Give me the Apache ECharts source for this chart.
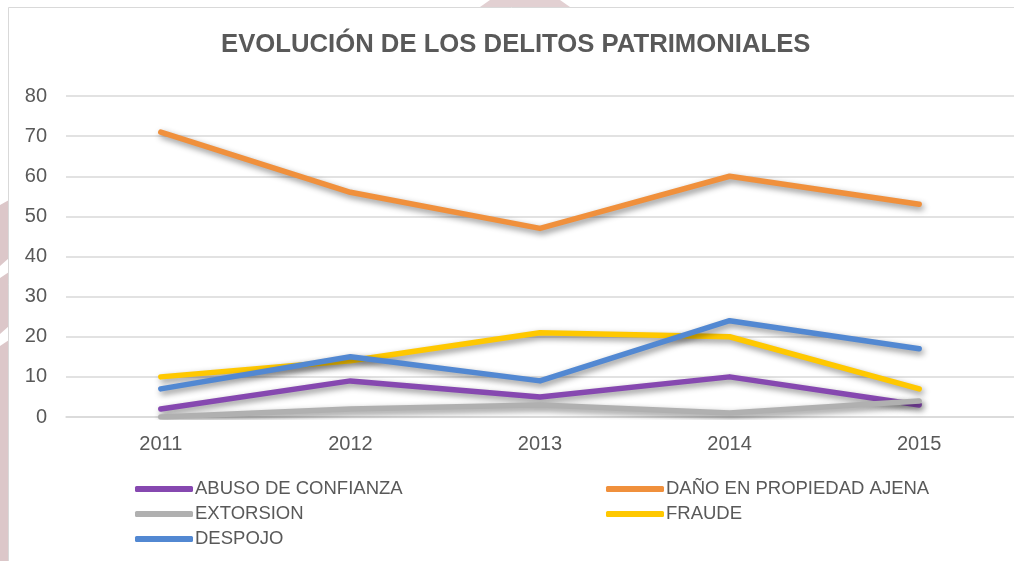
<!DOCTYPE html>
<html>
<head>
<meta charset="utf-8">
<script src="https://cdn.jsdelivr.net/npm/echarts@6/dist/echarts.min.js"></script>
<style>
  html, body { margin: 0; padding: 0; background: #ffffff; }
  #chart { width: 1014px; height: 561px; }
</style>
</head>
<body>
<div id="chart"></div>
<script>
// Años y tasas de delitos patrimoniales
const years = ['2011', '2012', '2013', '2014', '2015'];
const abusoConfianza = [2, 9, 5, 10, 3];
const danoPropiedad = [71, 56, 47, 60, 53];
const extorsion = [0, 2, 3, 1, 4];
const fraude = [10, 14, 21, 20, 7];
const despojo = [7, 15, 9, 24, 17];
const yTicks = [0, 10, 20, 30, 40, 50, 60, 70, 80];

const seriesDefs = [
  { name: 'ABUSO DE CONFIANZA', data: abusoConfianza, color: '#8648b0' },
  { name: 'DAÑO EN PROPIEDAD AJENA', data: danoPropiedad, color: '#f0903c' },
  { name: 'EXTORSION', data: extorsion, color: '#b0b0b0' },
  { name: 'FRAUDE', data: fraude, color: '#ffc800' },
  { name: 'DESPOJO', data: despojo, color: '#5288d2' }
];

const FONT = '"Liberation Sans", Arial, sans-serif';
const TEXT = '#595959';

const chart = echarts.init(document.getElementById('chart'), null, { renderer: 'canvas' });

const legendCommon = {
  orient: 'vertical',
  icon: 'roundRect',
  itemWidth: 58,
  itemHeight: 6,
  itemGap: 5,
  selectedMode: false,
  textStyle: { fontFamily: FONT, fontSize: 18.5, color: TEXT, lineHeight: 20, padding: [0, 0, 0, -3] }
};

chart.setOption({
  backgroundColor: '#ffffff',
  animation: false,
  title: {
    text: 'EVOLUCIÓN DE LOS DELITOS PATRIMONIALES',
    left: 216,
    top: 27,
    textStyle: { fontFamily: FONT, fontSize: 25.7, fontWeight: 'bold', color: TEXT }
  },
  legend: [
    Object.assign({}, legendCommon, {
      left: 130, top: 474,
      data: ['ABUSO DE CONFIANZA', 'EXTORSION', 'DESPOJO']
    }),
    Object.assign({}, legendCommon, {
      left: 601, top: 474,
      data: ['DAÑO EN PROPIEDAD AJENA', 'FRAUDE']
    })
  ],
  grid: { left: 66, top: 96, width: 952, bottom: 144, containLabel: false },
  xAxis: {
    type: 'category',
    data: years,
    boundaryGap: true,
    axisLine: { show: true, lineStyle: { color: '#d9d9d9', width: 1.5 } },
    axisTick: { show: false },
    axisLabel: { fontFamily: FONT, fontSize: 20, color: TEXT, margin: 17 }
  },
  yAxis: {
    type: 'value',
    min: yTicks[0],
    max: yTicks[yTicks.length - 1],
    interval: 10,
    axisLine: { show: false },
    axisTick: { show: false },
    axisLabel: { fontFamily: FONT, fontSize: 20, color: TEXT, margin: 19 },
    splitLine: { lineStyle: { color: '#d9d9d9', width: 1.5 } }
  },
  series: seriesDefs.map(s => ({
    name: s.name,
    type: 'line',
    data: s.data,
    symbol: 'none',
    color: s.color,
    itemStyle: { color: s.color },
    lineStyle: {
      color: s.color,
      width: 5.5,
      cap: 'round',
      join: 'round',
      shadowColor: 'rgba(0,0,0,0.45)',
      shadowBlur: 6,
      shadowOffsetX: 2,
      shadowOffsetY: 3
    }
  })),
  graphic: [
    // rosy shapes showing past the chart frame
    { type: 'polygon', z: -10, shape: { points: [[0, 205], [9, 200], [9, 258], [0, 266]] }, style: { fill: '#dcc7c9' } },
    { type: 'polygon', z: -10, shape: { points: [[0, 278], [9, 272], [9, 326], [0, 334]] }, style: { fill: '#dcc7c9' } },
    { type: 'polygon', z: -10, shape: { points: [[0, 346], [9, 340], [9, 561], [0, 561]] }, style: { fill: '#dcc7c9' } },
    { type: 'polygon', z: -10, shape: { points: [[490, 0], [560, 0], [570, 7], [480, 7]] }, style: { fill: '#e2d0d2' } },
    // chart frame
    { type: 'rect', z: -5, shape: { x: 8.5, y: 7.5, width: 1020, height: 570 }, style: { fill: '#ffffff', stroke: '#d9d9d9', lineWidth: 1 } }
  ]
});
</script>
</body>
</html>
